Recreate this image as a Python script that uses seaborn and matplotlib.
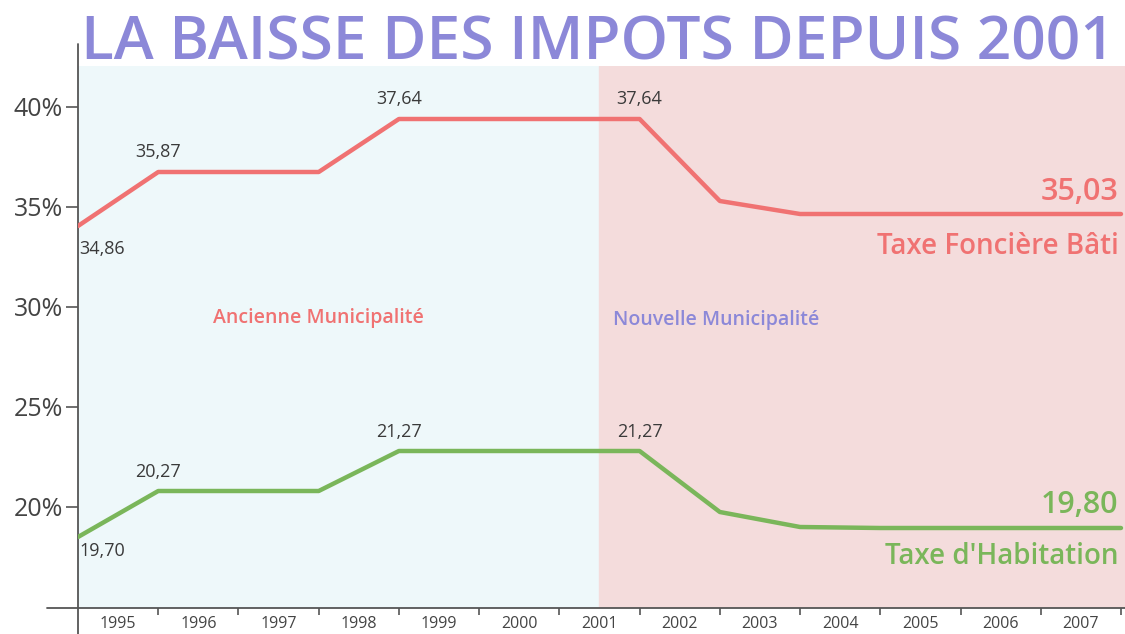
import pandas as pd
import seaborn as sns
import matplotlib.pyplot as plt

# Positions of the line breaks (start of each year) as drawn
annees = [1995, 1996, 1997, 1998, 1999, 2000, 2001, 2002, 2003, 2004, 2005, 2006, 2007, 2008]
fonciere = [34.05, 36.75, 36.75, 36.75, 39.4, 39.4, 39.4, 39.4, 35.3, 34.65, 34.65, 34.65, 34.65, 34.65]
habitation = [18.5, 20.8, 20.8, 20.8, 22.8, 22.8, 22.8, 22.8, 19.75, 19.0, 18.95, 18.95, 18.95, 18.95]

# Values written on the chart
lab_fonciere = [(1995, "34,86"), (1996, "35,87"), (1999, "37,64"), (2002, "37,64")]
lab_habitation = [(1995, "19,70"), (1996, "20,27"), (1999, "21,27"), (2002, "21,27")]
final_fonciere = "35,03"
final_habitation = "19,80"

tick_years = list(range(1995, 2008))

rouge = "#f07272"
vert = "#7ab65a"
violet = "#8c88d8"
gris = "#3a3a3a"

df = pd.DataFrame({
    "annee": annees * 2,
    "taux": fonciere + habitation,
    "taxe": ["Taxe Foncière Bâti"] * len(annees) + ["Taxe d'Habitation"] * len(annees),
})

sns.set_style("white")
plt.rcParams["font.family"] = ["Open Sans", "DejaVu Sans"]

fig = plt.figure(figsize=(11.25, 6.34), dpi=100)
ax = fig.add_axes([78 / 1125, 26 / 634, 1 - 78 / 1125, (608 - 66) / 634])
ax.set_xlim(1995, 2008.05)
ax.set_ylim(14.95, 42.05)

# Background: old and new municipality
ax.axvspan(1995, 2001.5, color="#eef8fa", zorder=0)
ax.axvspan(2001.5, 2008.05, color="#f4dcdc", zorder=0)

sns.lineplot(data=df, x="annee", y="taux", hue="taxe", palette=[rouge, vert],
             linewidth=3.2, legend=False, ax=ax, zorder=3)

# Axis lines extended like the original
for s in ax.spines.values():
    s.set_visible(False)
ax.plot([-31 / 1047, 1], [0, 0], transform=ax.transAxes, color="#555555", lw=1.3, clip_on=False)
ax.plot([0, 0], [-0.05, 1.04], transform=ax.transAxes, color="#555555", lw=1.3, clip_on=False)

ax.set_yticks([20, 25, 30, 35, 40])
ax.set_yticklabels(["20%", "25%", "30%", "35%", "40%"], fontsize=18, color="#444444")
ax.tick_params(axis="y", length=9, width=1.2, color="#555555", pad=2, left=True)

ax.set_xticks(tick_years[1:] + [2008], minor=False)
ax.set_xticklabels([])
ax.tick_params(axis="x", length=5, width=1.2, color="#555555", bottom=True, direction="out")
for y in tick_years:
    ax.text(y + 0.5, -0.03, str(y), transform=ax.get_xaxis_transform(),
            ha="center", va="center", fontsize=11.5, color="#444444")
ax.set_xlabel("")
ax.set_ylabel("")

for (x, t), v in zip(lab_fonciere, [34.05, 36.75, 39.4, 39.4]):
    if x == 1995:
        ax.text(x + 0.02, v - 1.15, t, ha="left", va="center", fontsize=13, color=gris)
    else:
        ax.text(x, v + 1.0, t, ha="center", va="center", fontsize=13, color=gris)
for (x, t), v in zip(lab_habitation, [18.5, 20.8, 22.8, 22.8]):
    if x == 1995:
        ax.text(x + 0.02, v - 0.7, t, ha="left", va="center", fontsize=13, color=gris)
    else:
        ax.text(x, v + 0.95, t, ha="center", va="center", fontsize=13, color=gris)

ax.text(2007.97, 35.75, final_fonciere, ha="right", va="center", fontsize=22,
        fontweight="semibold", color=rouge)
ax.text(2007.97, 33.0, "Taxe Foncière Bâti", ha="right", va="center", fontsize=20,
        fontweight="semibold", color=rouge)
ax.text(2007.97, 20.1, final_habitation, ha="right", va="center", fontsize=22,
        fontweight="semibold", color=vert)
ax.text(2007.97, 17.5, "Taxe d'Habitation", ha="right", va="center", fontsize=20,
        fontweight="semibold", color=vert)

ax.text(1998.0, 29.45, "Ancienne Municipalité", ha="center", va="center", fontsize=14,
        fontweight="semibold", color=rouge)
ax.text(2002.95, 29.35, "Nouvelle Municipalité", ha="center", va="center", fontsize=14,
        fontweight="semibold", color=violet)

fig.text(598 / 1125, 1 - 44 / 634, "LA BAISSE DES IMPOTS DEPUIS 2001", ha="center", va="center",
         fontsize=43.5, fontweight="semibold", color=violet, zorder=5)

fig.savefig("out.png", dpi=100)
